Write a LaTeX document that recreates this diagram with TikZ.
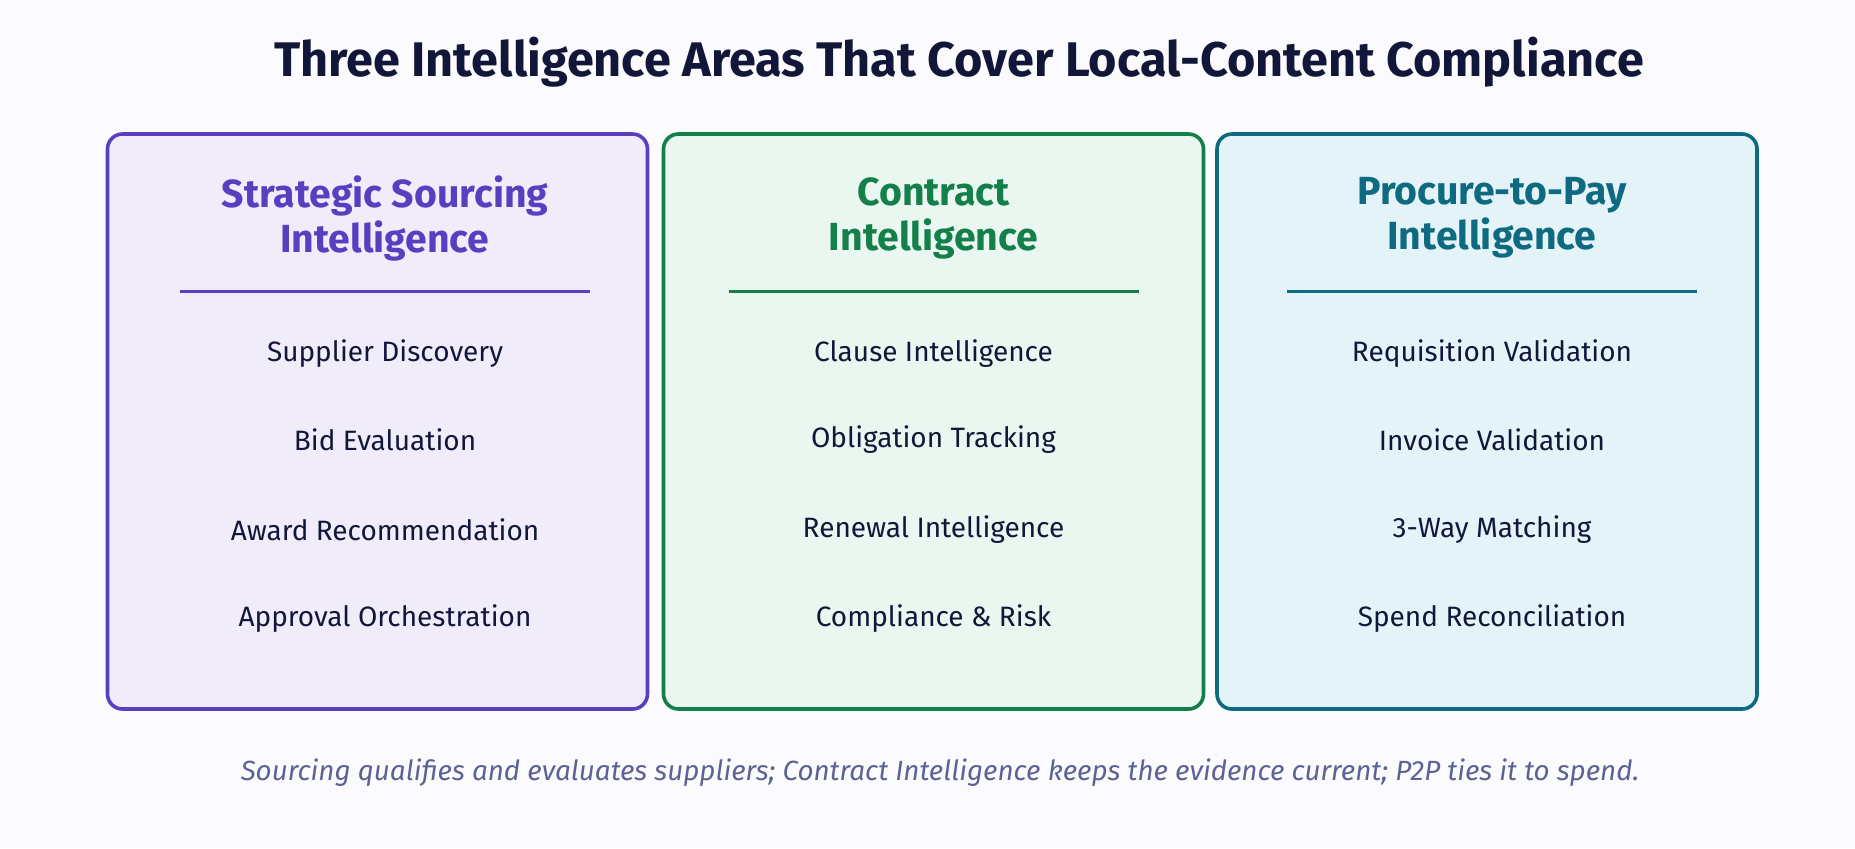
\documentclass[tikz,border=0pt]{standalone}
\usepackage{fontspec}
\setmainfont{Fira Sans}
\definecolor{bgcol}{HTML}{FBFBFD}
\definecolor{ink}{HTML}{12173A}
\definecolor{capcol}{HTML}{5C6394}
\definecolor{srcline}{HTML}{5A3EC0}
\definecolor{srcfill}{HTML}{F0ECFA}
\definecolor{conline}{HTML}{13804A}
\definecolor{confill}{HTML}{EAF6F0}
\definecolor{ptpline}{HTML}{0E6A80}
\definecolor{ptpfill}{HTML}{E3F3F8}
\tikzset{
 panel/.style={draw=#1line,fill=#1fill,line width=1.8pt,rounded corners=7.5pt,
   minimum width=270pt,minimum height=287.5pt,inner sep=0pt},
 headtxt/.style={text=#1line,align=center,font=\fontsize{19.6}{22.5}\selectfont\bfseries},
 itemtxt/.style={text=ink,font=\fontsize{14}{16}\selectfont},
}
\begin{document}
\begin{tikzpicture}[x=0.5pt,y=-0.5pt]
 \fill[bgcol] (0,0) rectangle (1855,848);
 \useasboundingbox (0,0) rectangle (1855,848);
 \node[text=ink,font=\fontsize{24.3}{28}\selectfont\bfseries] (title) at (959,62)
   {Three Intelligence Areas That Cover Local-Content Compliance};
 % three areas (\cx = box centre, \tx = text centre)
 \foreach \i/\cx/\tx/\col/\head/\a/\b/\c/\d in {
   1/377.5/385/src/{Strategic Sourcing\\Intelligence}/Supplier Discovery/Bid Evaluation/Award Recommendation/Approval Orchestration,
   2/933.5/933.5/con/{Contract\\Intelligence}/Clause Intelligence/Obligation Tracking/Renewal Intelligence/Compliance \& Risk,
   3/1487/1492/ptp/{Procure-to-Pay\\Intelligence}/Requisition Validation/Invoice Validation/3-Way Matching/Spend Reconciliation}{
   \node[panel=\col] (panel\i) at (\cx,421.5) {};
   \node[headtxt=\col] (head\i) at (\tx,218) {\head};
   \draw[\col line,line width=1.5pt] (\tx-205,291) -- (\tx+205,291);
   \node[itemtxt] (item\i a) at (\tx,354) {\a};
   \node[itemtxt] (item\i b) at (\tx,440) {\b};
   \node[itemtxt] (item\i c) at (\tx,530) {\c};
   \node[itemtxt] (item\i d) at (\tx,619) {\d};
 }
 \node[text=capcol,font=\fontsize{13.9}{16}\selectfont\itshape] (caption) at (940,773)
   {Sourcing qualifies and evaluates suppliers; Contract Intelligence keeps the evidence current; P2P ties it to spend.};
\end{tikzpicture}
\end{document}
